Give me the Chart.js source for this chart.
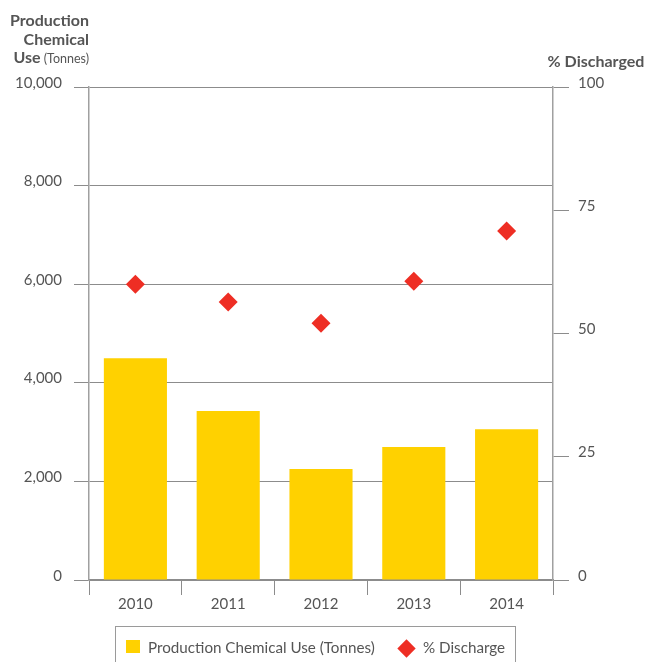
<!DOCTYPE html>
<html>
<head>
<meta charset="utf-8">
<script src="https://cdn.jsdelivr.net/npm/chart.js@4.4.1/dist/chart.umd.min.js"></script>
<style>
  html, body { margin: 0; padding: 0; background: #fff; }
  #wrap { position: relative; width: 657px; height: 662px; overflow: hidden; font-family: Lato, "Open Sans", sans-serif; color: #555; }
  #chart { position: absolute; left: 0; top: 0; }
  .legend { position: absolute; left: 115px; top: 626px; width: 401px; height: 44px; border: 1px solid #9a9a9a; box-sizing: border-box; }
  .legend .swatch { position: absolute; left: 10px; top: 13px; width: 14px; height: 13px; background: #FFD100; }
  .legend .diamond { position: absolute; left: 284px; top: 15px; width: 13px; height: 13px; background: #EE2E24; transform: rotate(45deg); }
  .legend span { position: absolute; top: 11px; font-size: 15.2px; color: #555; white-space: nowrap; }
</style>
</head>
<body>
<div id="wrap">
  <canvas id="chart" width="657" height="662"></canvas>
  <div class="legend">
    <div class="swatch"></div>
    <span style="left: 32px;">Production Chemical Use (Tonnes)</span>
    <div class="diamond"></div>
    <span style="left: 307px;">% Discharge</span>
  </div>
</div>
<script>
const years = ["2010", "2011", "2012", "2013", "2014"];
const chemicalUse = [4500, 3430, 2250, 2700, 3060];
const dischargePct = [60.0, 56.4, 52.1, 60.6, 70.8];
const leftTicks = [0, 2000, 4000, 6000, 8000, 10000];
const rightTicks = [0, 25, 50, 75, 100];

const TEXT = "#555";
const LINE = "#8c8c8c";
const FONT = "Lato, 'Open Sans', sans-serif";

// axis titles and y tick labels sit on the lines, so they are drawn by hand
const axisText = {
  id: "axisText",
  afterDraw(chart) {
    const ctx = chart.ctx;
    const left = chart.scales.y;
    const right = chart.scales.y1;
    ctx.save();
    ctx.fillStyle = TEXT;
    ctx.textBaseline = "alphabetic";

    ctx.font = `15px ${FONT}`;
    ctx.textAlign = "right";
    leftTicks.forEach((v) => {
      ctx.fillText(v.toLocaleString("en-US"), 62, left.getPixelForValue(v) + 0.5);
    });
    ctx.textAlign = "left";
    rightTicks.forEach((v) => {
      ctx.fillText(String(v), 578, right.getPixelForValue(v) + 0.5);
    });

    ctx.font = `bold 16px ${FONT}`;
    ctx.textAlign = "right";
    ctx.fillText("Production", 89, 26);
    ctx.fillText("Chemical", 89, 45);
    ctx.font = `12.5px ${FONT}`;
    ctx.fillText("(Tonnes)", 89, 63);
    const w = ctx.measureText(" (Tonnes)").width;
    ctx.font = `bold 16px ${FONT}`;
    ctx.fillText("Use", 89 - w, 63);

    ctx.textAlign = "center";
    ctx.fillText("% Discharged", 596, 67);
    ctx.restore();
  }
};

new Chart(document.getElementById("chart"), {
  type: "bar",
  data: {
    labels: years,
    datasets: [
      {
        type: "scatter",
        label: "% Discharge",
        data: dischargePct,
        yAxisID: "y1",
        showLine: false,
        pointStyle: "rectRot",
        pointRadius: 9.5,
        pointHoverRadius: 9.5,
        backgroundColor: "#EE2E24",
        borderColor: "#EE2E24",
        borderWidth: 0
      },
      {
        label: "Production Chemical Use (Tonnes)",
        data: chemicalUse,
        yAxisID: "y",
        backgroundColor: "#FFD100",
        barPercentage: 0.68,
        categoryPercentage: 1
      }
    ]
  },
  options: {
    responsive: false,
    animation: false,
    layout: { padding: { top: 87, left: 0, right: 0, bottom: 0 } },
    plugins: {
      legend: { display: false },
      tooltip: { enabled: false }
    },
    scales: {
      x: {
        type: "category",
        offset: true,
        grid: {
          offset: true,
          drawOnChartArea: false,
          tickLength: 15,
          color: LINE
        },
        border: { color: LINE, width: 1.5 },
        ticks: { color: TEXT, font: { family: FONT, size: 15 }, padding: 0 },
        afterFit(scale) { scale.height = 82; }
      },
      y: {
        position: "left",
        min: 0,
        max: 10000,
        ticks: { stepSize: 2000, display: false },
        grid: { color: LINE, tickLength: 15, lineWidth: 1 },
        border: { color: "#a0a0a0", width: 1.5 },
        afterFit(scale) { scale.width = 89; }
      },
      y1: {
        position: "right",
        min: 0,
        max: 100,
        ticks: { stepSize: 25, display: false },
        grid: { drawOnChartArea: false, color: LINE, tickLength: 16 },
        border: { color: "#a0a0a0", width: 1.5 },
        afterFit(scale) { scale.width = 104; }
      }
    }
  },
  plugins: [axisText]
});
</script>
</body>
</html>
